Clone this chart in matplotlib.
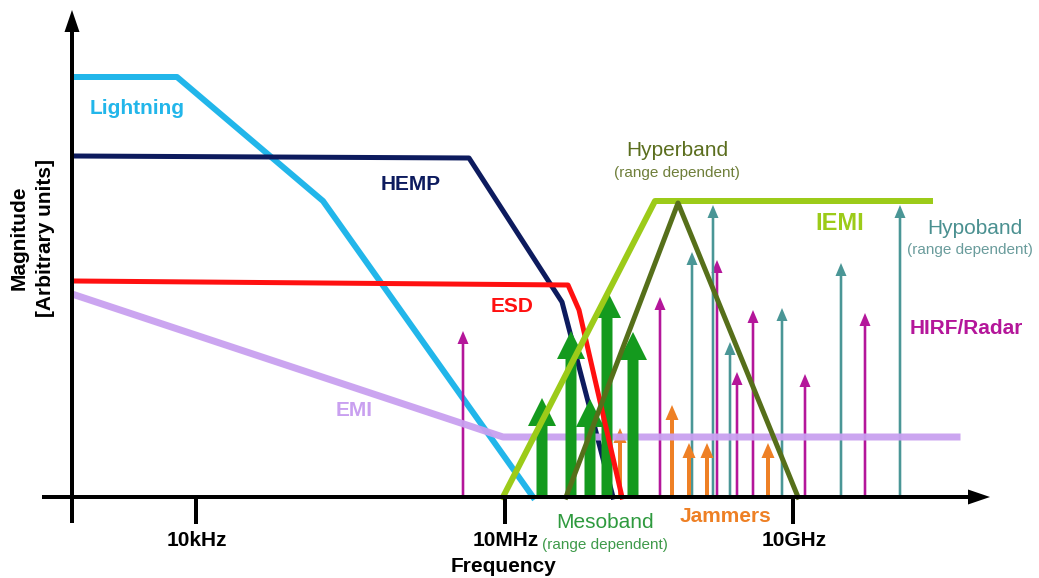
import matplotlib
matplotlib.use("Agg")
import matplotlib.pyplot as plt

plt.rcParams['font.family'] = ['Liberation Sans', 'DejaVu Sans']

# schematic frequency position (0 = magnitude axis) and magnitude (arbitrary units)
lightning_x = [3, 105, 251, 461]
lightning_y = [420, 420, 296, 0]
hemp_x = [3, 397, 490, 541]
hemp_y = [341, 339, 195, 0]
esd_x = [3, 496, 507, 550]
esd_y = [216, 212, 187, 0]
emi_x = [3, 431, 885]
emi_y = [202, 60, 60]
iemi_x = [431, 583, 858]
iemi_y = [0, 296, 296]
hyper_x = [494, 606, 726]
hyper_y = [0, 294, 0]

meso_x = [470, 499, 518, 535, 561]
meso_h = [99, 166, 98, 207, 165]
hirf_x = [391, 588, 645, 665, 681, 733, 793]
hirf_h = [166, 200, 237, 125, 187, 123, 184]
hypo_x = [620, 641, 658, 710, 769, 828]
hypo_h = [245, 292, 155, 189, 234, 292]
jam_x = [548, 600, 617, 635, 696]
jam_h = [69, 92, 54, 54, 54]

tick_pos = [124, 433, 721]
tick_labels = ['10kHz', '10MHz', '10GHz']

fig = plt.figure(figsize=(10.39, 5.78), dpi=100)
ax = fig.add_axes([0, 0, 1, 1])
ax.set_xlim(-72, 967)
ax.set_ylim(-81, 497)
ax.axis('off')

PX = 0.72  # points per pixel at dpi 100

ax.plot(lightning_x, lightning_y, color='#22B6EA', lw=6 * PX, zorder=2)
ax.plot(hemp_x, hemp_y, color='#0D1B5E', lw=5 * PX, zorder=2)

# thin arrows
for x, h in zip(hirf_x, hirf_h):
    ax.arrow(x, 0, 0, h, width=2.6, head_width=11, head_length=13,
             length_includes_head=True, color='#B4169A', lw=0, zorder=3)
for x, h in zip(hypo_x, hypo_h):
    ax.arrow(x, 0, 0, h, width=2.6, head_width=11, head_length=13,
             length_includes_head=True, color='#4A9696', lw=0, zorder=3)
for x, h in zip(jam_x, jam_h):
    ax.arrow(x, 0, 0, h, width=4, head_width=13, head_length=15,
             length_includes_head=True, color='#EE8025', lw=0, zorder=3)

ax.plot(emi_x, emi_y, color='#C9A0F0', lw=7 * PX, zorder=4, alpha=0.95)

for x, h in zip(meso_x, meso_h):
    ax.arrow(x, 0, 0, h, width=11, head_width=28, head_length=28,
             length_includes_head=True, color='#149A1E', lw=0, zorder=5)

ax.plot(esd_x, esd_y, color='#FF1010', lw=5 * PX, zorder=6)
ax.plot(iemi_x, iemi_y, color='#9CCB19', lw=6 * PX, zorder=6)
ax.plot(hyper_x, hyper_y, color='#566F1A', lw=5 * PX, zorder=7)

# axes with arrow heads
ax.arrow(0, -26, 0, 513, width=4, head_width=15, head_length=22,
         length_includes_head=True, color='black', lw=0, zorder=8)
ax.arrow(-30, 0, 948, 0, width=4, head_width=15, head_length=22,
         length_includes_head=True, color='black', lw=0, zorder=8)
for t, lab in zip(tick_pos, tick_labels):
    ax.plot([t, t], [0, -25], color='black', lw=4 * PX, zorder=8)
    ax.text(t + 1, -44, lab, ha='center', va='center', fontsize=15,
            fontweight='bold', color='black')

ax.text(432, -69, 'Frequency', ha='center', va='center', fontsize=15,
        fontweight='bold')
ax.text(-53, 259, 'Magnitude', ha='center', va='center', fontsize=15,
        fontweight='bold', rotation=90)
ax.text(-27, 259, '[Arbitrary units]', ha='center', va='center', fontsize=15,
        fontweight='bold', rotation=90)

# series labels
ax.text(65, 389, 'Lightning', ha='center', va='center', fontsize=15,
        fontweight='bold', color='#22B6EA')
ax.text(339, 313, 'HEMP', ha='center', va='center', fontsize=15,
        fontweight='bold', color='#0D1B5E')
ax.text(440, 190, 'ESD', ha='center', va='center', fontsize=15,
        fontweight='bold', color='#FF1010')
ax.text(282, 87, 'EMI', ha='center', va='center', fontsize=15,
        fontweight='bold', color='#C9A0F0')
ax.text(605, 347, 'Hyperband', ha='center', va='center', fontsize=15,
        color='#5B6E1E')
ax.text(605, 324, '(range dependent)', ha='center', va='center', fontsize=11,
        color='#6F7F3A')
ax.text(768, 273, 'IEMI', ha='center', va='center', fontsize=17,
        fontweight='bold', color='#9CCB19')
ax.text(903, 269, 'Hypoband', ha='center', va='center', fontsize=15,
        color='#4A9090')
ax.text(898, 247, '(range dependent)', ha='center', va='center', fontsize=11,
        color='#6A9C9C')
ax.text(894, 169, 'HIRF/Radar', ha='center', va='center', fontsize=15,
        fontweight='bold', color='#B4169A')
ax.text(533, -25, 'Mesoband', ha='center', va='center', fontsize=15,
        color='#2E9A3E')
ax.text(533, -48, '(range dependent)', ha='center', va='center', fontsize=11,
        color='#3E9A4A')
ax.text(654, -20, 'Jammers', ha='center', va='center', fontsize=15,
        fontweight='bold', color='#EE8025')

fig.savefig('out.png', dpi=100)
